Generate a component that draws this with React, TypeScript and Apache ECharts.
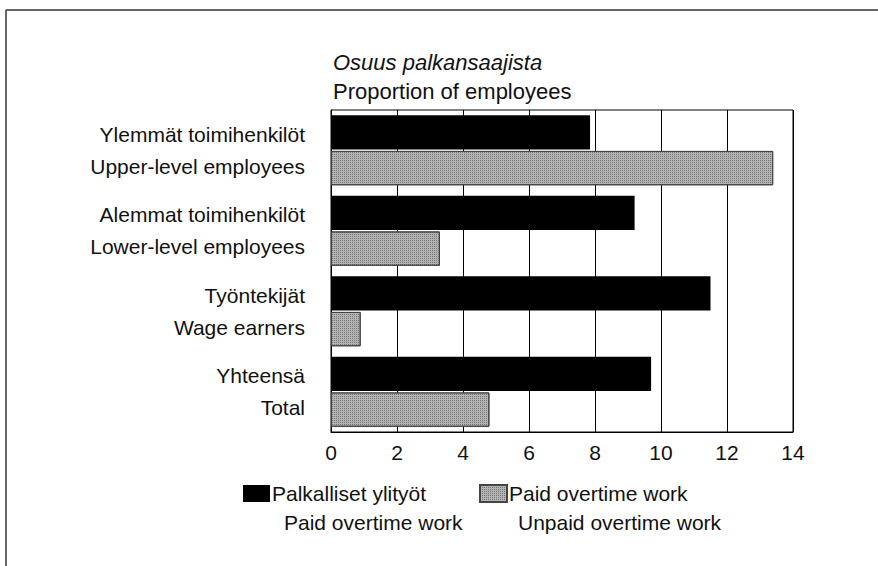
import React, { useEffect, useRef } from "react";
import * as echarts from "echarts";

const categoriesFi = ["Ylemmät toimihenkilöt", "Alemmat toimihenkilöt", "Työntekijät", "Yhteensä"];
const categoriesEn = ["Upper-level employees", "Lower-level employees", "Wage earners", "Total"];
const paidOvertime = [7.85, 9.2, 11.5, 9.7];
const unpaidOvertime = [13.4, 3.3, 0.9, 4.8];
const xTicks = { min: 0, max: 14, interval: 2 };
const seriesNames = ["Palkalliset ylityöt", "Paid overtime work"];
const legendSecondLines = ["Paid overtime work", "Unpaid overtime work"];
const titleLines = ["Osuus palkansaajista", "Proportion of employees"];

const FONT = "'Liberation Sans', Arial, sans-serif";
const GRAY = "#b4b4b4";

export default function App() {
  const ref = useRef<HTMLDivElement>(null);
  useEffect(() => {
    if (!ref.current) return;
    const chart = echarts.init(ref.current, undefined, { renderer: "svg" });
    const categories = categoriesFi.map((fi, i) => fi + "\n" + categoriesEn[i]);
    const grayDecal = {
      symbol: "rect",
      symbolSize: 1,
      dashArrayX: [1, 1],
      dashArrayY: [1, 1],
      color: "rgba(40,40,40,0.45)",
      rotation: 0,
    };
    chart.setOption({
      animation: false,
      backgroundColor: "#ffffff",
      textStyle: { fontFamily: FONT },
      title: [
        {
          text: titleLines[0],
          left: 333,
          top: 51,
          padding: 0,
          textStyle: { fontFamily: FONT, fontSize: 22, fontStyle: "italic", fontWeight: "normal", color: "#111" },
        },
        {
          text: titleLines[1],
          left: 333,
          top: 80,
          padding: 0,
          textStyle: { fontFamily: FONT, fontSize: 22, fontWeight: "normal", color: "#111" },
        },
      ],
      legend: [
        {
          data: [seriesNames[0]],
          left: 243,
          top: 483,
          padding: 0,
          itemWidth: 27,
          itemHeight: 17,
          itemGap: 0,
          icon: "rect",
          textStyle: { fontFamily: FONT, fontSize: 21, color: "#111", padding: [0, 0, 0, -3] },
        },
        {
          data: [seriesNames[1]],
          left: 479,
          top: 483,
          padding: 0,
          itemWidth: 27,
          itemHeight: 17,
          itemGap: 0,
          icon: "rect",
          textStyle: { fontFamily: FONT, fontSize: 21, color: "#111", padding: [0, 0, 0, -3] },
        },
      ],
      graphic: [
        { type: "line", shape: { x1: 6, y1: 10, x2: 878, y2: 10 }, style: { stroke: "#333", lineWidth: 1.5 } },
        { type: "line", shape: { x1: 6, y1: 10, x2: 6, y2: 566 }, style: { stroke: "#333", lineWidth: 1.5 } },
        {
          type: "text",
          left: 284,
          top: 512,
          style: { text: legendSecondLines[0], fontFamily: FONT, fontSize: 21, fill: "#111" },
        },
        {
          type: "text",
          left: 518,
          top: 512,
          style: { text: legendSecondLines[1], fontFamily: FONT, fontSize: 21, fill: "#111" },
        },
      ],
      grid: {
        left: 331,
        top: 110,
        right: 85,
        bottom: 134,
        show: true,
        borderColor: "#000",
        borderWidth: 1,
        containLabel: false,
      },
      xAxis: {
        type: "value",
        min: xTicks.min,
        max: xTicks.max,
        interval: xTicks.interval,
        axisLine: { show: true, lineStyle: { color: "#000", width: 1 } },
        axisTick: { show: false },
        splitLine: { show: true, lineStyle: { color: "#000", width: 1 } },
        axisLabel: { fontFamily: FONT, fontSize: 21, color: "#111", margin: 10 },
      },
      yAxis: {
        type: "category",
        inverse: true,
        data: categories,
        axisLine: { show: true, lineStyle: { color: "#000", width: 1 } },
        axisTick: { show: false },
        splitLine: { show: false },
        axisLabel: { fontFamily: FONT, fontSize: 21, color: "#111", margin: 26, lineHeight: 32, align: "right" },
      },
      series: [
        {
          name: seriesNames[0],
          type: "bar",
          data: paidOvertime,
          barGap: "4%",
          barCategoryGap: "13%",
          itemStyle: { color: "#000" },
          z: 3,
        },
        {
          name: seriesNames[1],
          type: "bar",
          data: unpaidOvertime,
          barGap: "4%",
          barCategoryGap: "13%",
          itemStyle: { color: GRAY, borderColor: "#444", borderWidth: 1, decal: grayDecal },
          z: 3,
        },
      ],
    });
    return () => chart.dispose();
  }, []);
  return <div ref={ref} style={{ position: "absolute", left: 0, top: 0, width: 878, height: 566 }} />;
}
